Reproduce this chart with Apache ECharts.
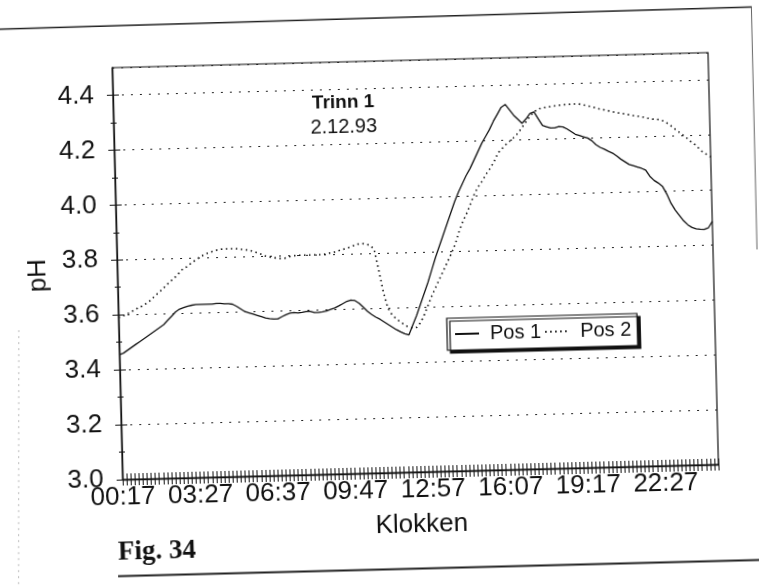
<!DOCTYPE html>
<html>
<head>
<meta charset="utf-8">
<title>Trinn 1 – pH</title>
<script src="https://cdn.jsdelivr.net/npm/echarts@6/dist/echarts.min.js"></script>
<style>
  html, body { margin: 0; padding: 0; background: #fff; overflow: hidden; width: 759px; height: 586px; }
  /* the figure sits slightly tilted on the page */
  #chart { position: absolute; left: -20px; top: -22px; width: 799px; height: 630px;
           transform: rotate(-1.45deg); transform-origin: 50% 50%; background: #fff; }
</style>
</head>
<body>
<div id="chart"></div>
<script>
// Measurements every 10 minutes, starting 00:17
const startMinutes = 17;
const stepMinutes = 10;
const pointCount = 147;
const pad2 = n => (n < 10 ? '0' : '') + n;
const timeLabels = [];
for (let i = 0; i < pointCount; i++) {
  const m = (startMinutes + i * stepMinutes) % 1440;
  timeLabels.push(pad2(Math.floor(m / 60)) + ':' + pad2(m % 60));
}

// pH, position 1 (solid)
const pos1 = [
  3.455, 3.46, 3.47, 3.48, 3.49, 3.50, 3.51, 3.52, 3.53, 3.54,
  3.55, 3.56, 3.575, 3.59, 3.605, 3.615, 3.62, 3.625, 3.628, 3.63,
  3.63, 3.63, 3.63, 3.63, 3.632, 3.632, 3.63, 3.63, 3.628, 3.62,
  3.61, 3.60, 3.595, 3.59, 3.585, 3.58, 3.575, 3.572, 3.57, 3.57,
  3.578, 3.585, 3.59, 3.592, 3.59, 3.592, 3.595, 3.595, 3.59, 3.59,
  3.592, 3.595, 3.60, 3.605, 3.612, 3.62, 3.628, 3.632, 3.63, 3.62,
  3.605, 3.59, 3.578, 3.568, 3.56, 3.55, 3.54, 3.53, 3.52, 3.512,
  3.505, 3.50, 3.535, 3.57, 3.61, 3.65, 3.69, 3.735, 3.78, 3.82,
  3.86, 3.90, 3.94, 3.98, 4.015, 4.045, 4.075, 4.10, 4.13, 4.16,
  4.19, 4.215, 4.24, 4.27, 4.295, 4.32, 4.33, 4.31, 4.29, 4.275,
  4.26, 4.275, 4.295, 4.30, 4.275, 4.25, 4.245, 4.24, 4.24, 4.245,
  4.243, 4.235, 4.225, 4.215, 4.21, 4.205, 4.20, 4.19, 4.175, 4.165,
  4.158, 4.15, 4.143, 4.132, 4.12, 4.11, 4.10, 4.095, 4.09, 4.085,
  4.078, 4.055, 4.04, 4.03, 4.018, 3.99, 3.955, 3.93, 3.91, 3.89,
  3.875, 3.865, 3.86, 3.858, 3.857, 3.862, 3.885
];

// pH, position 2 (dotted)
const pos2 = [
  3.59, 3.595, 3.60, 3.61, 3.615, 3.625, 3.63, 3.64, 3.65, 3.665,
  3.677, 3.69, 3.705, 3.718, 3.73, 3.745, 3.76, 3.768, 3.78, 3.79,
  3.80, 3.808, 3.815, 3.82, 3.825, 3.828, 3.83, 3.83, 3.83, 3.83,
  3.828, 3.826, 3.824, 3.82, 3.815, 3.81, 3.802, 3.798, 3.795, 3.792,
  3.79, 3.79, 3.795, 3.798, 3.80, 3.80, 3.80, 3.80, 3.80, 3.80,
  3.80, 3.802, 3.805, 3.807, 3.812, 3.816, 3.82, 3.825, 3.83, 3.835,
  3.837, 3.835, 3.83, 3.815, 3.74, 3.66, 3.60, 3.575, 3.56, 3.548,
  3.537, 3.528, 3.525, 3.527, 3.545, 3.575, 3.61, 3.645, 3.675, 3.705,
  3.735, 3.765, 3.795, 3.83, 3.875, 3.91, 3.94, 3.975, 4.01, 4.035,
  4.055, 4.08, 4.10, 4.125, 4.155, 4.17, 4.185, 4.197, 4.21, 4.225,
  4.245, 4.265, 4.285, 4.30, 4.31, 4.314, 4.316, 4.318, 4.32, 4.322,
  4.323, 4.324, 4.325, 4.325, 4.325, 4.322, 4.318, 4.314, 4.31, 4.305,
  4.302, 4.298, 4.295, 4.29, 4.288, 4.285, 4.282, 4.278, 4.276, 4.273,
  4.27, 4.266, 4.263, 4.262, 4.26, 4.252, 4.243, 4.23, 4.218, 4.206,
  4.195, 4.18, 4.17, 4.155, 4.14, 4.13, 4.12
];

// y-axis labelled ticks and the minor ticks between them
const yLabelValues = [3.0, 3.2, 3.4, 3.6, 3.8, 4.0, 4.2, 4.4];
const yMinorValues = [3.1, 3.3, 3.5, 3.7, 3.9, 4.1, 4.3];
const seriesNames = ['Pos 1', 'Pos 2'];

// canvas is larger than the page so the tilt leaves no bare corners
const OX = 20, OY = 22;
const SANS = '"Liberation Sans", Arial, Helvetica, sans-serif';
const INK = '#111';

const chart = echarts.init(document.getElementById('chart'), null, { renderer: 'canvas' });

const option = {
  animation: false,
  backgroundColor: '#fff',
  title: {
    text: 'Trinn 1',
    subtext: '2.12.93',
    left: 348 + OX,
    top: 92 + OY,
    textAlign: 'center',
    padding: 0,
    itemGap: 5,
    textStyle: { fontFamily: SANS, fontWeight: 'bold', fontSize: 19, color: INK },
    subtextStyle: { fontFamily: SANS, fontSize: 20, color: INK }
  },
  legend: {
    data: seriesNames,
    left: 446 + OX,
    top: 320 + OY,
    orient: 'horizontal',
    selectedMode: false,
    itemWidth: 24,
    itemHeight: 12,
    itemGap: 3,
    padding: [6, 6, 6, 7],
    backgroundColor: '#fff',
    borderColor: INK,
    borderWidth: 1.2,
    borderRadius: 0,
    shadowColor: INK,
    shadowBlur: 0,
    shadowOffsetX: 3,
    shadowOffsetY: 3,
    // legend keys show only the line pattern, no marker
    itemStyle: { color: 'rgba(0,0,0,0)', borderWidth: 0, opacity: 0 },
    textStyle: { fontFamily: SANS, fontSize: 20, color: INK, padding: [0, 0, 0, 6] }
  },
  grid: {
    left: 118 + OX,
    top: 61 + OY,
    width: 596,
    height: 412,
    show: true,
    borderColor: INK,
    borderWidth: 1.2,
    backgroundColor: 'transparent',
    outerBoundsMode: 'none'
  },
  xAxis: [
    {
      type: 'category',
      data: timeLabels,
      boundaryGap: false,
      position: 'bottom',
      axisLine: { lineStyle: { color: INK, width: 1.3 } },
      axisTick: { show: false },
      axisLabel: { interval: 18, margin: 5, fontFamily: SANS, fontSize: 26, color: INK },
      splitLine: { show: false },
      name: 'Klokken',
      nameLocation: 'middle',
      nameGap: 40,
      nameTextStyle: { fontFamily: SANS, fontSize: 26, color: INK }
    },
    {
      // crossing tick marks, one per reading
      type: 'category',
      data: timeLabels,
      boundaryGap: false,
      position: 'bottom',
      offset: -6,
      axisLine: { show: false },
      axisTick: { show: true, interval: 0, length: 12, lineStyle: { color: INK, width: 1 } },
      axisLabel: { show: false },
      splitLine: { show: false }
    }
  ],
  yAxis: [
    {
      type: 'value',
      position: 'left',
      min: 3.0,
      max: 4.5,
      interval: 0.2,
      axisLine: { show: true, lineStyle: { color: INK, width: 1.3 } },
      axisTick: { show: false },
      axisLabel: {
        customValues: yLabelValues,
        margin: 19,
        fontFamily: SANS,
        fontSize: 26,
        color: INK,
        formatter: v => (v > 4.45 ? '' : Number(v).toFixed(1))
      },
      splitLine: { show: true, lineStyle: { color: '#222', width: 1, type: [2, 7] } },
      name: 'pH',
      nameLocation: 'middle',
      nameRotate: 90,
      nameGap: 64,
      nameTextStyle: { fontFamily: SANS, fontSize: 26, color: INK }
    },
    {
      // crossing major ticks
      type: 'value',
      position: 'left',
      min: 3.0,
      max: 4.5,
      interval: 0.2,
      offset: -6,
      axisLine: { show: false },
      axisTick: { show: true, length: 12, customValues: yLabelValues, lineStyle: { color: INK, width: 1 } },
      axisLabel: { show: false },
      splitLine: { show: false }
    },
    {
      // crossing minor ticks
      type: 'value',
      position: 'left',
      min: 3.0,
      max: 4.5,
      interval: 0.1,
      offset: -3,
      axisLine: { show: false },
      axisTick: { show: true, length: 6, customValues: yMinorValues, lineStyle: { color: INK, width: 1 } },
      axisLabel: { show: false },
      splitLine: { show: false }
    }
  ],
  series: [
    {
      name: seriesNames[0],
      type: 'line',
      data: pos1,
      xAxisIndex: 0,
      yAxisIndex: 0,
      symbol: 'none',
      smooth: false,
      itemStyle: { color: INK },
      lineStyle: { color: INK, width: 1.3, type: 'solid' },
      z: 3
    },
    {
      name: seriesNames[1],
      type: 'line',
      data: pos2,
      xAxisIndex: 0,
      yAxisIndex: 0,
      symbol: 'none',
      smooth: false,
      itemStyle: { color: INK },
      lineStyle: { color: INK, width: 1.6, type: [1.5, 3.5] },
      z: 3
    }
  ],
  graphic: [
    // page frame lines around the figure
    { type: 'line', silent: true, shape: { x1: 5, y1: 41.7, x2: 779, y2: 38.5 },
      style: { stroke: '#222', lineWidth: 1.5 } },
    { type: 'line', silent: true, shape: { x1: 778.5, y1: 38.5, x2: 778, y2: 281 },
      style: { stroke: '#666', lineWidth: 1 } },
    { type: 'line', silent: true, shape: { x1: 131, y1: 591.5, x2: 799, y2: 591.5 },
      style: { stroke: '#222', lineWidth: 2 } },
    { type: 'line', silent: true, shape: { x1: 38, y1: 343, x2: 31, y2: 610 },
      style: { stroke: '#bbb', lineWidth: 1, lineDash: [2, 4] } },
    { type: 'text', silent: true, x: 150.5 + OX, y: 546 + OY,
      style: { text: 'Fig. 34', fontFamily: '"Liberation Serif", "Times New Roman", serif',
               fontWeight: 'bold', fontSize: 27, fill: INK, align: 'center', verticalAlign: 'middle' } }
  ]
};

chart.setOption(option);
</script>
</body>
</html>
